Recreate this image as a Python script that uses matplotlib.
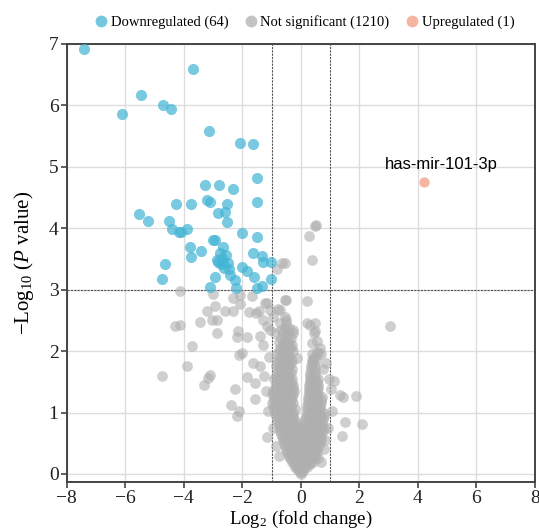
import matplotlib
matplotlib.use("Agg")
import matplotlib.pyplot as plt
from matplotlib.lines import Line2D

plt.rcParams["font.family"] = ["Liberation Serif", "DejaVu Serif"]
plt.rcParams["mathtext.fontset"] = "custom"
plt.rcParams["mathtext.rm"] = "Liberation Serif"
plt.rcParams["mathtext.it"] = "Liberation Serif:italic"

# downregulated (64)
down_x = [-7.41, -3.69, -5.46, -6.11, -4.71, -4.44, -3.14, -2.08, -1.63, -1.50,
          -3.28, -2.80, -2.32, -1.50, -3.75, -3.21, -3.10, -2.52, -4.27, -2.83,
          -2.59, -2.52, -5.53, -5.22, -4.51, -4.40, -4.16, -4.10, -3.89, -2.01,
          -1.50, -3.00, -2.93, -3.79, -3.41, -3.75, -2.66, -2.76, -1.63, -1.33,
          -1.29, -1.02, -2.83, -2.66, -2.49, -2.69, -2.45, -2.01, -1.84, -2.42,
          -2.25, -2.93, -1.60, -1.02, -3.10, -2.22, -1.50, -1.33, -4.64, -4.74,
          -2.73, -2.86, -2.56, -2.63]
down_y = [6.92, 6.59, 6.17, 5.86, 6.01, 5.94, 5.58, 5.39, 5.37, 4.82,
          4.70, 4.70, 4.64, 4.43, 4.40, 4.46, 4.43, 4.40, 4.40, 4.25,
          4.27, 4.10, 4.23, 4.12, 4.12, 3.99, 3.94, 3.94, 3.99, 3.92,
          3.86, 3.81, 3.81, 3.70, 3.63, 3.53, 3.70, 3.60, 3.60, 3.55,
          3.45, 3.45, 3.45, 3.45, 3.44, 3.52, 3.33, 3.37, 3.31, 3.24,
          3.16, 3.21, 3.21, 3.18, 3.05, 3.02, 3.03, 3.06, 3.42, 3.18,
          3.41, 3.49, 3.57, 3.36]

# upregulated (1)
up_x = [4.21]
up_y = [4.76]
up_name = "has-mir-101-3p"

# not significant: scattered points
ns_scatter = [
    (0.49, 4.03), (0.51, 4.05), (0.29, 3.88), (0.37, 3.49), (-0.54, 3.44),
    (-0.65, 3.43), (-0.82, 3.33), (-0.51, 2.83), (0.22, 2.81), (3.05, 2.40),
    (-4.13, 2.97), (-2.99, 2.93), (-2.31, 2.86), (-2.08, 2.92), (-1.68, 2.90),
    (-1.17, 2.78), (-0.54, 2.83), (-2.93, 2.74), (-3.20, 2.65), (-2.59, 2.66),
    (-2.31, 2.65), (-2.08, 2.77), (-1.76, 2.63), (-1.53, 2.62), (-3.45, 2.47),
    (-3.05, 2.50), (-2.88, 2.51), (-4.30, 2.40), (-4.13, 2.42), (-2.88, 2.29),
    (-2.14, 2.33), (-2.17, 2.23), (-1.85, 2.23), (-3.73, 2.09), (-2.02, 1.97),
    (-2.10, 1.94), (-1.62, 1.80), (-1.39, 1.75), (-3.88, 1.76), (-4.76, 1.60),
    (-3.10, 1.61), (-3.16, 1.56), (-3.31, 1.45), (-2.25, 1.38), (-1.85, 1.57),
    (-1.57, 1.48), (-1.55, 1.22), (-2.40, 1.12), (-2.10, 1.02), (-2.17, 0.95),
    (-1.17, 0.60), (-1.11, 1.02), (-1.22, 2.78), (-1.05, 2.67), (-0.77, 2.68),
    (-1.42, 2.66), (-1.28, 2.51), (-1.17, 2.40), (-0.88, 2.29), (-0.66, 2.35),
    (-0.49, 2.51), (0.20, 2.46), (0.31, 2.43), (0.49, 2.32), (0.54, 2.16),
    (0.37, 2.13), (0.77, 1.70), (1.14, 1.52), (1.34, 1.29), (1.45, 1.26),
    (1.89, 1.27), (1.51, 0.85), (2.10, 0.81), (1.40, 0.62), (1.06, 1.02),
    (0.94, 0.75), (0.83, 0.55), (0.60, 0.26), (-0.72, 2.67), (-0.54, 2.56),
    (-0.25, 2.35), (-0.25, 2.00), (-0.14, 1.88), (0.95, 1.55), (1.05, 1.38),
    (0.85, 1.80), (0.70, 1.95), (0.65, 2.05), (0.55, 1.98), (0.43, 1.86),
    (0.60, 1.97), (0.45, 2.30), (0.50, 2.45), (-1.30, 2.10), (-1.10, 1.90),
    (-1.25, 1.60), (-1.20, 1.35), (-1.05, 2.35), (-1.40, 2.25), (-0.95, 2.55),
    (-0.85, 0.45), (-0.75, 0.30), (0.78, 0.40), (0.70, 0.20), (-0.95, 0.75),
]

# not significant: dense core, x positions per y level
ns_core_rows = {
    0.00: [0.0],
    0.06: [-0.08, 0.08],
    0.12: [-0.18, -0.05, 0.08, 0.2],
    0.20: [-0.3, -0.15, 0.0, 0.15, 0.3, 0.42],
    0.28: [-0.4, -0.25, -0.1, 0.05, 0.2, 0.35, 0.5],
    0.36: [-0.48, -0.33, -0.18, -0.03, 0.12, 0.27, 0.42, 0.57],
    0.45: [-0.55, -0.4, -0.25, -0.1, 0.05, 0.2, 0.35, 0.5, 0.63],
    0.55: [-0.62, -0.47, -0.32, -0.17, -0.02, 0.13, 0.28, 0.43, 0.58, 0.7],
    0.65: [-0.68, -0.53, -0.38, -0.23, -0.08, 0.07, 0.22, 0.37, 0.52, 0.67],
    0.75: [-0.72, -0.57, -0.42, -0.27, -0.12, 0.05, 0.2, 0.35, 0.5, 0.65, 0.78],
    0.85: [-0.78, -0.63, -0.48, -0.33, -0.18, 0.12, 0.27, 0.42, 0.57, 0.72],
    0.95: [-0.85, -0.7, -0.55, -0.4, -0.25, 0.2, 0.35, 0.5, 0.65, 0.8],
    1.05: [-0.92, -0.78, -0.63, -0.48, -0.33, -0.2, 0.22, 0.37, 0.52, 0.67],
    1.15: [-1.0, -0.85, -0.7, -0.55, -0.4, -0.25, 0.24, 0.39, 0.54, 0.7],
    1.25: [-0.9, -0.75, -0.6, -0.45, -0.3, 0.25, 0.4, 0.55, 0.72],
    1.35: [-0.95, -0.8, -0.65, -0.5, -0.35, -0.22, 0.27, 0.42, 0.57],
    1.45: [-0.85, -0.7, -0.55, -0.4, -0.25, 0.28, 0.43, 0.58],
    1.55: [-0.9, -0.75, -0.6, -0.45, -0.3, 0.3, 0.45, 0.6],
    1.65: [-0.8, -0.65, -0.5, -0.35, 0.32, 0.47],
    1.75: [-0.85, -0.7, -0.55, -0.4, 0.35, 0.5],
    1.85: [-0.75, -0.6, -0.45, -0.3, 0.38, 0.52],
    1.95: [-0.8, -0.62, -0.45, 0.4],
    2.05: [-0.7, -0.52, -0.35],
    2.15: [-0.75, -0.58, -0.4],
    2.30: [-0.62, -0.45, -0.28],
    2.45: [-0.7, -0.52],
}
ns_core_rows_b = {
    0.03: [-0.04, 0.04],
    0.09: [-0.12, 0.0, 0.12],
    0.16: [-0.22, -0.08, 0.06, 0.2, 0.33],
    0.24: [-0.35, -0.2, -0.05, 0.1, 0.25, 0.4],
    0.32: [-0.42, -0.28, -0.13, 0.02, 0.17, 0.32, 0.47],
    0.40: [-0.5, -0.35, -0.2, -0.05, 0.1, 0.25, 0.4, 0.53],
    0.50: [-0.58, -0.43, -0.28, -0.13, 0.02, 0.17, 0.32, 0.47, 0.62],
    0.60: [-0.65, -0.5, -0.35, -0.2, -0.05, 0.1, 0.25, 0.4, 0.55, 0.68],
    0.70: [-0.7, -0.55, -0.4, -0.25, -0.1, 0.05, 0.2, 0.35, 0.5, 0.62, 0.75],
    0.80: [-0.75, -0.6, -0.45, -0.3, -0.15, 0.12, 0.27, 0.42, 0.57, 0.7],
    0.90: [-0.82, -0.67, -0.52, -0.37, -0.22, 0.15, 0.3, 0.45, 0.6, 0.75],
    1.00: [-0.88, -0.73, -0.58, -0.43, -0.28, 0.22, 0.37, 0.52, 0.67, 0.78],
    1.10: [-0.95, -0.8, -0.65, -0.5, -0.35, 0.22, 0.37, 0.52, 0.65],
    1.20: [-0.92, -0.78, -0.63, -0.48, -0.33, 0.26, 0.41, 0.56, 0.68],
    1.30: [-0.98, -0.83, -0.68, -0.53, -0.38, -0.25, 0.28, 0.43, 0.58],
    1.40: [-0.88, -0.73, -0.58, -0.43, -0.28, 0.29, 0.44, 0.6],
    1.50: [-0.8, -0.65, -0.5, -0.35, 0.3, 0.45, 0.55],
    1.60: [-0.85, -0.7, -0.55, -0.4, 0.33, 0.48],
    1.70: [-0.75, -0.6, -0.45, -0.3, 0.36, 0.5],
    1.80: [-0.8, -0.65, -0.5, -0.35, 0.4],
    1.90: [-0.7, -0.55, -0.4, 0.45],
    2.00: [-0.75, -0.58, -0.42],
    2.10: [-0.62, -0.45, -0.3],
    2.22: [-0.68, -0.5, -0.35],
    2.38: [-0.55, -0.4],
}

labels = ["Downregulated (64)", "Not significant (1210)", "Upregulated (1)"]
colors = ["#45B5D5", "#AFAFAF", "#F39C80"]

ns_x = [p[0] for p in ns_scatter]
ns_y = [p[1] for p in ns_scatter]
for rows in (ns_core_rows, ns_core_rows_b):
    for yv, xs in rows.items():
        ns_x += xs
        ns_y += [yv] * len(xs)

fig = plt.figure(figsize=(5.39, 5.29), dpi=100)
ax = fig.add_axes([0.124, 0.089, 0.868, 0.828])

ax.scatter(ns_x, ns_y, s=60, color=colors[1], alpha=0.6, linewidths=0, zorder=3)
ax.scatter(down_x, down_y, s=64, color=colors[0], alpha=0.72, linewidths=0, zorder=4)
ax.scatter(up_x, up_y, s=55, color=colors[2], alpha=0.75, linewidths=0, zorder=4)
ax.text(up_x[0] + 0.58, up_y[0] + 0.28, up_name, family="Liberation Sans",
        fontsize=12, ha="center", va="center", zorder=5)

for xv in (-1, 1):
    ax.axvline(xv, color="#555555", lw=0.8, ls=(0, (2, 1)), zorder=2)
ax.axhline(3, color="#555555", lw=0.8, ls=(0, (2, 1)), zorder=2)

ax.set_xlim(-8, 8)
ax.set_ylim(-0.13, 7)
ax.set_xticks(range(-8, 9, 2))
ax.set_yticks(range(0, 8))
ax.grid(True, color="#DDDDDD", lw=1)
ax.set_axisbelow(True)
for sp in ax.spines.values():
    sp.set_color("#444444")
    sp.set_linewidth(1.4)
ax.tick_params(labelsize=14, length=4, width=1.2, pad=2,
               color="#444444", labelcolor="#222222")

ax.set_xlabel("Log$_2$ (fold change)", fontsize=13.5, labelpad=1)
ax.set_ylabel("\u2212Log$_{10}$ ($P$ value)", fontsize=15, labelpad=9)

handles = [Line2D([], [], marker="o", ls="none", markersize=8.5, color=c,
                  alpha=0.75, markeredgewidth=0) for c in colors]
fig.legend(handles, labels, loc="center", bbox_to_anchor=(0.565, 0.958), ncol=3,
           frameon=False, fontsize=10.5, handlelength=0.9, handletextpad=0.2,
           columnspacing=1.1, borderpad=0)

fig.savefig("out.png", dpi=100)
